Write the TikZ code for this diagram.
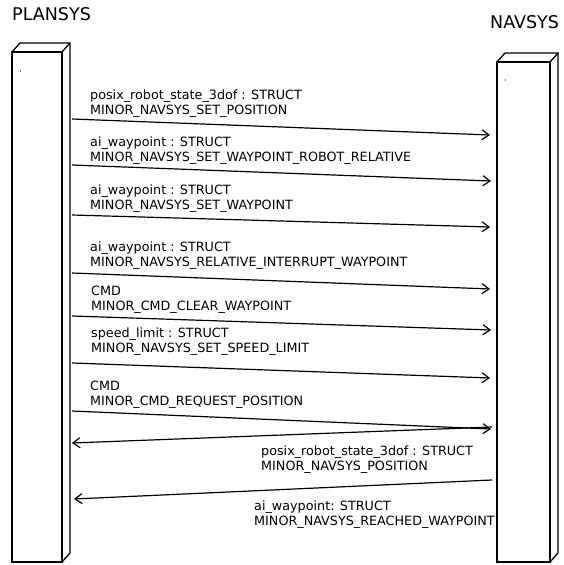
\documentclass[tikz,border=0pt]{standalone}
\usepackage{fontspec}
\setmainfont{DejaVu Sans}
\usetikzlibrary{arrows.meta}
\begin{document}
\begin{tikzpicture}[x=1pt,y=-1pt,
  boxline/.style={line width=1.3pt, line join=miter, fill=white},
  msg/.style={line width=1.2pt, -{Straight Barb[length=7pt,width=10pt,line width=1.2pt]}},
  lbl/.style={anchor=base west, inner sep=0pt, align=left, font=\fontsize{12.75}{15}\selectfont},
  title/.style={anchor=base west, inner sep=0pt, font=\fontsize{17.5}{20}\selectfont}]
\useasboundingbox (0,0) rectangle (563,565);
\fill[white] (0,0) rectangle (563,565);
% titles
\node[title] (tplan) at (12,20) {PLANSYS};
\node[title] (tnav) at (490,28) {NAVSYS};
% left box
\draw[boxline] (12,52) -- (20,43) -- (70,43) -- (70,553) -- (62,562) -- (12,562) -- cycle;
\draw[boxline] (12,52) rectangle (62,562);
\draw[line width=1.3pt] (62,52) -- (70,43);
\fill[gray] (19.8,70) rectangle (20.8,72);
% right box
\draw[boxline] (497,62) -- (505,53) -- (558,53) -- (558,553) -- (550,562) -- (497,562) -- cycle;
\draw[boxline] (497,62) rectangle (550,562);
\draw[line width=1.3pt] (550,62) -- (558,53);
\fill[gray] (505.3,79) rectangle (506.3,81);
% endpoints
\coordinate (s1) at (72,119);  \coordinate (e1) at (490,135);
\coordinate (s2) at (72,165);  \coordinate (e2) at (491,181);
\coordinate (s3) at (72,215);  \coordinate (e3) at (490,227);
\coordinate (s4) at (72,273);  \coordinate (e4) at (490,289);
\coordinate (s5) at (72,316);  \coordinate (e5) at (491,330);
\coordinate (s6) at (72,363);  \coordinate (e6) at (490,378);
\coordinate (s7) at (72,411);  \coordinate (e7) at (491,429);
\coordinate (s8) at (492,427); \coordinate (e8) at (72,443);
\coordinate (s9) at (492,480); \coordinate (e9) at (74,499);
\draw[msg] (s1) -- (e1);
\draw[msg] (s2) -- (e2);
\draw[msg] (s3) -- (e3);
\draw[msg] (s4) -- (e4);
\draw[msg] (s5) -- (e5);
\draw[msg] (s6) -- (e6);
\draw[msg] (s7) -- (e7);
\draw[msg] (s8) -- (e8);
\draw[msg] (s9) -- (e9);
% labels (anchor = baseline of the second line)
\node[lbl] (l1) at (90,114.5) {posix\_robot\_state\_3dof : STRUCT\\MINOR\_NAVSYS\_SET\_POSITION};
\node[lbl] (l2) at (90,161) {ai\_waypoint : STRUCT\\MINOR\_NAVSYS\_SET\_WAYPOINT\_ROBOT\_RELATIVE};
\node[lbl] (l3) at (90,209.5) {ai\_waypoint : STRUCT\\MINOR\_NAVSYS\_SET\_WAYPOINT};
\node[lbl] (l4) at (90,266.5) {ai\_waypoint : STRUCT\\MINOR\_NAVSYS\_RELATIVE\_INTERRUPT\_WAYPOINT};
\node[lbl] (l5) at (91,310.5) {CMD\\MINOR\_CMD\_CLEAR\_WAYPOINT};
\node[lbl] (l6) at (91,352.5) {speed\_limit : STRUCT\\MINOR\_NAVSYS\_SET\_SPEED\_LIMIT};
\node[lbl] (l7) at (90,405.5) {CMD\\MINOR\_CMD\_REQUEST\_POSITION};
\node[lbl] (l8) at (261,470.5) {posix\_robot\_state\_3dof : STRUCT\\MINOR\_NAVSYS\_POSITION};
\node[lbl] (l9) at (254,525.5) {ai\_waypoint: STRUCT\\MINOR\_NAVSYS\_REACHED\_WAYPOINT};
\end{tikzpicture}
\end{document}
